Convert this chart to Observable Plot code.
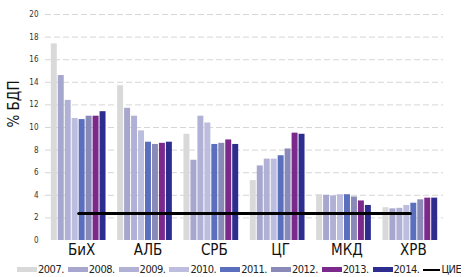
<!DOCTYPE html>
<html>
<head>
<meta charset="utf-8">
<script src="https://cdn.jsdelivr.net/npm/d3@7"></script>
<script src="https://cdn.jsdelivr.net/npm/@observablehq/plot@0.6"></script>
<style>
  body { margin: 0; background: #fff; font-family: "Liberation Sans Narrow", "DejaVu Sans Condensed", sans-serif; }
  #legend { display: flex; white-space: nowrap; overflow: hidden; width: 465px; height: 15px; font-size: 11px; letter-spacing: -0.5px; color: #222; align-items: center; padding-left: 17px; box-sizing: border-box; }
  .item { display: flex; align-items: center; width: 50.8px; flex: none; overflow: hidden; }
  .item.last { width: auto; }
  .sw { width: 20px; height: 5px; margin-right: 1px; flex: none; }
  .ln { width: 17px; height: 2px; background: #000; margin-right: 1px; flex: none; }
</style>
</head>
<body>
<div id="chart"></div>
<div id="legend"></div>
<script>
const categories = ["БиХ", "АЛБ", "СРБ", "ЦГ", "МКД", "ХРВ"];
const years = ["2007.", "2008.", "2009.", "2010.", "2011.", "2012.", "2013.", "2014."];
const colors = ["#d9d9d9", "#a6a6cf", "#b1b1d6", "#bdbddf", "#5b6fbf", "#8a8ab8", "#7b2a8c", "#2d2d90"];

// values per country, 2007..2014 (% of GDP)
const bih = [17.4, 14.6, 12.4, 10.8, 10.7, 11.0, 11.0, 11.4];
const alb = [13.7, 11.7, 11.0, 9.7, 8.7, 8.5, 8.6, 8.7];
const srb = [9.4, 7.1, 11.0, 10.4, 8.5, 8.6, 8.9, 8.5];
const cg  = [5.3, 6.6, 7.2, 7.2, 7.5, 8.1, 9.5, 9.4];
const mkd = [4.05, 4.0, 3.95, 4.05, 4.05, 3.85, 3.5, 3.1];
const hrv = [2.9, 2.8, 2.85, 3.1, 3.3, 3.6, 3.75, 3.75];
const cieLabel = "ЦИЕ";
const cieValue = 2.4;

const series = [bih, alb, srb, cg, mkd, hrv];
const barW = 0.105;
const data = [];
series.forEach((vals, ci) => vals.forEach((v, yi) => {
  const x1 = ci + (yi - years.length / 2) * barW;
  data.push({cat: categories[ci], year: years[yi], ci, yi, x1, x2: x1 + barW, value: v});
}));
const cieLine = [{x: 0, y: cieValue}, {x: categories.length - 1, y: cieValue}];

const plot = Plot.plot({
  width: 465,
  height: 262,
  marginLeft: 45,
  marginRight: 22,
  marginTop: 14,
  marginBottom: 22,
  style: {fontFamily: "'Liberation Sans Narrow', 'DejaVu Sans Condensed', sans-serif", background: "#fff"},
  x: {domain: [-0.5, categories.length - 0.5], axis: null},
  y: {domain: [0, 20], axis: null},
  color: {domain: years, range: colors},
  marks: [
    Plot.gridY(d3.range(2, 21, 2), {stroke: "#bbb", strokeOpacity: 0.6, strokeDasharray: "6,3"}),
    Plot.rectY(data, {x1: "x1", x2: "x2", y: "value", fill: "year", insetLeft: 0.5, insetRight: 0.5}),
    Plot.lineY(cieLine, {x: "x", y: "y", stroke: "#000", strokeWidth: 3}),
    Plot.axisY(d3.range(0, 21, 2), {tickSize: 0, tickPadding: 7, fontSize: 8, color: "#333", label: null}),
    Plot.axisX(d3.range(categories.length), {tickSize: 0, tickPadding: 4, fontSize: 15, color: "#111", tickFormat: i => categories[i], label: null, dx: 3}),
    Plot.text(["% БДП"], {frameAnchor: "left", rotate: -90, dx: -31, fontSize: 15, fill: "#111"})
  ]
});
document.getElementById("chart").appendChild(plot);

const legend = document.getElementById("legend");
years.forEach((y, i) => {
  const it = document.createElement("div");
  it.className = "item";
  it.innerHTML = `<span class="sw" style="background:${colors[i]}"></span><span>${y}</span>`;
  legend.appendChild(it);
});
const it = document.createElement("div");
it.className = "item last";
it.innerHTML = `<span class="ln"></span><span>${cieLabel}</span>`;
legend.appendChild(it);
</script>
</body>
</html>
